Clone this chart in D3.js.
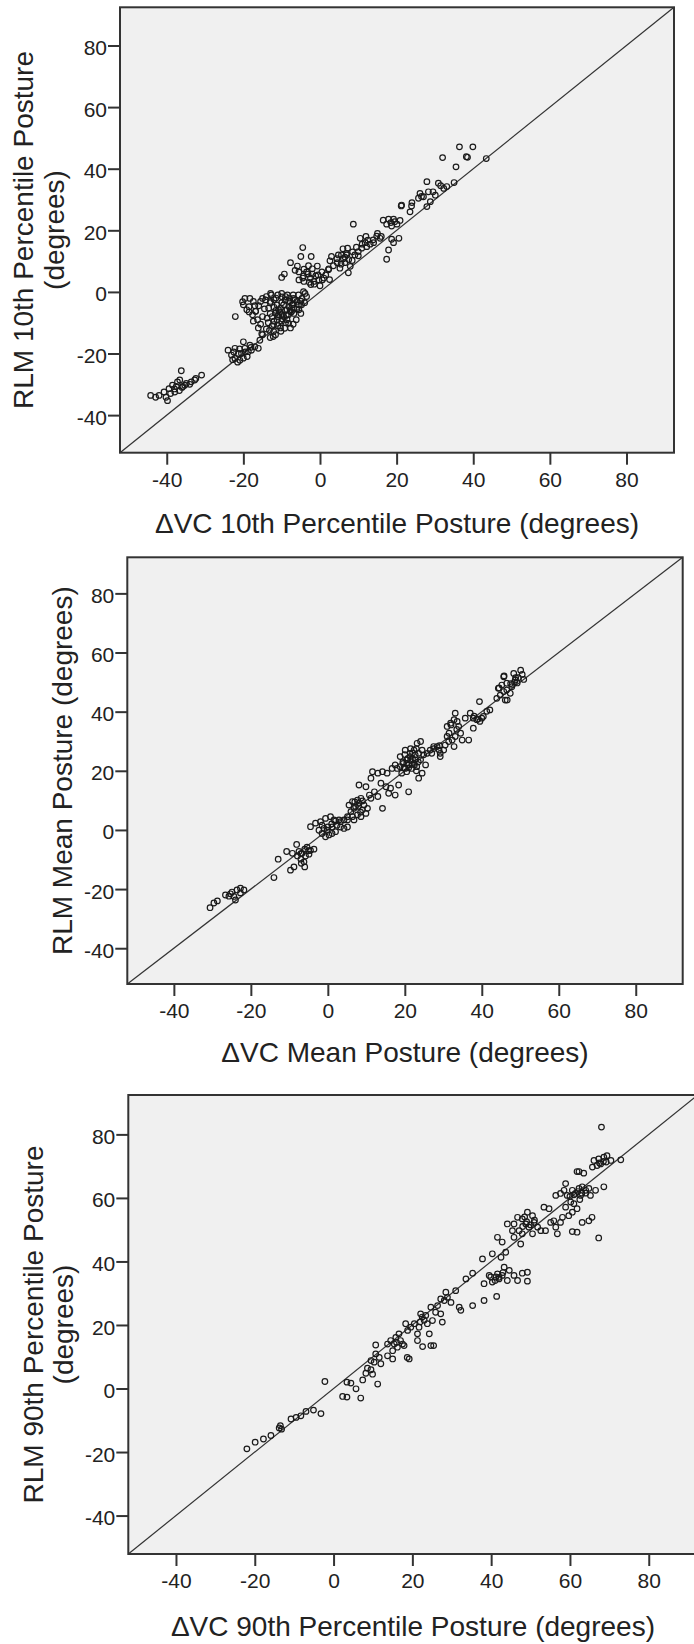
<!DOCTYPE html>
<html><head><meta charset="utf-8">
<script src="https://cdn.jsdelivr.net/npm/d3@7"></script>
<style>
body{margin:0;background:#fff}
svg{display:block}
text{font-family:"Liberation Sans",Arial,sans-serif;fill:#222}
</style>
</head><body><svg id="c" width="694" height="1644"></svg>
<script>
const tickValues = [-40, -20, 0, 20, 40, 60, 80];
const xTitles = ["ΔVC 10th Percentile Posture (degrees)", "ΔVC Mean Posture (degrees)", "ΔVC 90th Percentile Posture (degrees)"];
const yTitles = [["RLM 10th Percentile Posture", "(degrees)"], ["RLM Mean Posture (degrees)"], ["RLM 90th Percentile Posture", "(degrees)"]];

// [ΔVC, RLM] pairs
const p10Points = [
[36.4,47.1],[39.9,47.1],[32.0,43.6],[38.2,43.9],[38.5,43.7],[35.5,40.6],[43.4,43.3],[35.0,35.5],
[27.9,35.8],[30.9,35.3],[26.1,32.0],[27.0,30.9],[28.3,32.5],[30.1,31.4],[32.3,33.6],[33.1,34.2],[27.9,27.7],[25.7,30.4],[28.8,29.3],
[29.5,32.5],[31.5,34.5],[26.5,31.0],[24.0,29.0],
[21.3,28.2],[21.2,27.9],[23.9,27.9],[23.5,26.0],
[16.5,23.3],[17.9,23.6],[19.2,23.6],[20.9,23.2],[18.7,21.4],[17.4,22.0],[20.1,22.0],[20.6,17.4],[18.7,17.1],[17.9,13.6],[17.4,10.6],[19.2,16.0],[8.7,22.0],
[12.5,16.8],[14.0,16.0],[11.0,15.5],[16.0,18.0],[12.0,18.0],[15.0,19.0],[18.5,22.5],[19.5,22.8],
[10.5,17.4],[11.8,16.0],[13.1,15.5],[14.8,18.1],[15.7,17.4],[13.9,16.9],[7.2,14.2],[6.9,12.5],[5.6,12.0],[4.8,12.0],[6.1,10.8],[5.2,7.7],[7.4,6.2],[7.9,8.3],[9.1,12.0],[10.0,13.1],[10.9,14.2],[12.2,14.7],[8.4,10.2],[10.0,11.7],[2.6,10.1],[4.4,10.8],[6.5,11.3],[2.2,7.2],
[3.5,8.5],[4.5,9.5],[5.5,9.0],[6.5,9.5],[7.5,10.5],[8.5,13.0],[9.5,14.5],[6.0,14.0],[7.0,12.0],[3.0,11.5],
[-4.5,14.4],[-5.0,11.5],[-2.3,11.5],[-7.7,9.5],[-9.3,5.8],[-10.0,4.7],[-5.9,8.4],[-4.2,7.4],[-2.0,5.8],[-0.7,8.4],[2.3,7.5],[-5.5,3.9],[-4.2,3.4],[-2.8,3.1],[-1.6,3.4],[-0.3,3.9],[1.0,4.5],[-3.1,5.8],[-4.3,5.2],[-2.4,2.4],[-1.1,5.2],[0.6,3.9],
[-5.5,6.5],[-4.5,4.5],[-3.5,6.5],[-2.5,4.5],[-1.5,2.5],[-0.5,5.5],[0.5,6.5],[1.5,5.5],[2.5,4.0],[-3.0,8.5],[-6.5,7.0],[0.0,2.0],[-2.0,7.5],
[-4.3,0.1],[-5.6,-1.0],[-6.9,-2.1],[-8.2,-3.1],[-9.5,-4.2],[-10.3,-5.3],[-11.6,-6.9],[-12.5,-8.0],[-11.2,-9.0],[-9.9,-7.4],[-8.6,-5.8],[-7.3,-4.2],[-6.0,-3.1],[-4.7,-2.1],[-10.3,-11.7],[-12.1,-12.8],[-11.6,-13.9],[-7.7,-11.7],[-13.4,-5.3],[-12.9,-3.1],[-14.2,-2.6],[-15.0,-2.1],[-15.5,-3.1],[-16.8,-6.3],[-16.3,-9.0],[-15.0,-8.0],[-16.1,-11.7],[-15.0,-13.9],[-12.9,-0.5],[-12.7,-1.0],[-9.9,-1.6],[-9.1,-2.6],[-7.8,-3.1],[-9.5,-8.0],[-8.6,-9.0],[-12.1,-10.6],[-10.8,-5.8],[-11.2,-4.2],[-8.2,-7.4],[-6.9,-5.3],[-5.6,-4.2],[-3.9,-0.5],
[-10.5,-6.5],[-9.0,-6.0],[-11.0,-8.0],[-8.0,-5.0],[-7.0,-4.0],[-10.0,-3.5],[-12.0,-5.0],[-13.0,-7.0],[-9.0,-10.0],[-7.5,-6.5],[-6.0,-5.5],[-11.5,-2.0],[-8.5,-1.0],[-5.0,-3.0],[-13.5,-10.0],[-12.0,-9.5],[-10.0,-9.5],[-14.0,-12.0],
[-13.0,-3.5],[-12.0,-2.5],[-11.0,-1.0],[-10.0,-0.5],[-9.0,-1.5],[-8.0,-2.0],[-7.0,-1.0],[-6.5,-2.5],[-11.5,-6.0],[-10.8,-7.5],[-9.8,-8.8],[-8.8,-7.5],[-7.8,-6.2],[-6.8,-7.0],[-5.5,-5.8],[-4.8,-4.2],[-12.5,-11.0],[-11.0,-11.0],[-10.2,-12.8],[-9.2,-11.8],[-8.2,-10.2],[-13.8,-8.5],[-14.5,-5.5],[-13.2,-12.5],[-12.2,-14.5],[-6.2,-9.0],[-7.0,-10.5],[-5.0,-7.0],[-4.0,-3.5],[-3.5,-1.5],[-14.0,-1.5],[-16.0,-4.5],[-17.0,-4.5],[-18.5,-6.5],[-15.5,-10.5],[-13.0,-14.8],
[-19.6,-2.1],[-18.3,-2.1],[-20.0,-4.2],[-19.1,-5.8],[-17.4,-3.1],[-22.1,-8.0],[-16.8,-6.3],[-17.6,-7.4],[-17.4,-9.5],[-20.2,-3.2],[-18.5,-4.8],
[-24.0,-18.9],[-22.2,-18.3],[-23.1,-20.5],[-22.2,-21.6],[-20.9,-22.2],[-20.5,-20.0],[-19.6,-18.3],[-18.3,-17.3],[-17.0,-17.8],[-16.1,-18.3],[-20.0,-16.2],[-17.9,-18.9],[-21.3,-20.0],[-18.7,-19.4],[-15.7,-15.7],[-15.2,-13.6],[-21.5,-22.8],[-19.0,-21.0],
[-22.5,-19.5],[-21.0,-18.5],[-19.5,-19.5],[-18.0,-18.0],[-20.0,-21.5],[-22.8,-22.0],
[-36.2,-25.6],[-30.9,-27.0],[-32.7,-28.6],[-34.9,-29.7],[-36.6,-28.6],[-35.8,-30.7],[-37.5,-30.7],[-44.2,-33.6],[-42.0,-33.6],[-39.8,-35.3],[-40.7,-32.5],[-39.4,-31.4],[-38.5,-30.3],[-37.2,-29.2],[-37.9,-32.5],[-36.7,-32.0],[-35.3,-30.3],[-33.6,-29.2],[-32.4,-28.1],[-42.9,-34.2],[-40.2,-34.2],
[-38.0,-31.5],[-36.0,-31.0],[-34.0,-30.0],[-39.0,-33.0]
];

const meanPoints = [
[-30.6,-26.3],[-28.7,-24.0],[-29.6,-24.7],[-26.6,-22.0],[-25.3,-21.6],[-24.4,-22.5],[-23.6,-20.3],[-22.7,-19.7],[-21.8,-20.3],[-24.0,-23.7],[-24.9,-21.0],[-22.7,-21.3],[-25.7,-22.4],
[-14.0,-16.1],[-12.9,-9.9],[-10.7,-7.3],[-9.7,-13.6],[-8.8,-12.5],[-8.1,-4.9],[-9.2,-7.9],[-7.5,-7.3],[-6.7,-7.9],[-5.8,-8.8],[-6.2,-10.8],[-6.0,-12.5],[-7.0,-9.9],[-5.4,-5.8],[-4.5,-6.9],[-3.6,-6.5],[-4.9,-8.2],[-7.9,-8.8],[-6.9,-11.3],
[-6.0,-6.5],[-7.0,-8.0],[-5.0,-7.0],
[-4.5,1.1],[-3.2,2.3],[-1.9,2.8],[-0.6,3.9],[0.7,4.5],[1.6,3.4],[-2.3,-0.1],[-1.5,-1.2],[-0.6,-2.3],[0.3,-1.7],[-0.2,-0.1],[1.1,1.0],[2.0,-0.6],[2.4,1.6],[3.3,2.8],[4.2,3.4],[5.1,4.5],[2.9,3.4],[4.2,0.5],[5.1,1.0],[3.3,1.0],[-1.5,1.6],[1.1,-1.2],
[1.0,2.0],[0.0,1.0],[2.0,3.0],[-1.0,0.5],
[6.0,6.2],[6.8,7.3],[5.5,8.4],[6.4,9.6],[7.7,10.1],[8.6,10.7],[8.1,9.0],[7.2,7.9],[9.4,8.4],[9.0,6.8],[7.7,5.1],[6.4,4.5],[8.6,4.5],[9.9,5.6],[10.3,7.3],[11.2,10.7],[10.8,11.8],[9.9,14.6],[8.1,15.2],[12.1,12.9],[13.0,11.3],[14.2,7.3],[5.1,3.4],[6.8,3.4],
[8.0,8.0],[7.0,9.5],[9.0,9.8],[8.5,6.0],
[11.2,17.5],[11.6,19.7],[13.0,19.2],[14.2,19.7],[15.4,19.2],[13.8,15.8],[15.1,14.6],[16.3,14.1],[17.5,11.8],[18.4,15.2],[16.7,20.8],[15.8,12.4],[21.0,12.9],
[18.8,21.4],[19.6,22.5],[20.5,23.7],[20.1,27.0],[21.4,24.8],[22.7,23.7],[23.6,25.9],[23.2,29.3],[24.1,29.9],[22.4,27.0],[19.2,19.2],[20.5,19.7],[21.8,20.8],[23.1,21.4],[23.6,17.5],[24.5,19.2],[25.4,22.0],[24.9,25.4],[25.8,25.9],[18.8,24.8],[21.0,22.0],[22.4,22.5],[20.1,20.8],[18.0,20.8],[17.5,22.0],[22.7,25.4],[21.4,25.9],[24.1,23.7],
[19.5,23.0],[21.0,21.0],[22.0,24.0],[20.0,25.5],[23.0,20.0],[21.5,27.5],
[20.5,22.5],[21.5,23.5],[22.5,22.0],[23.5,23.0],[19.8,21.0],[22.0,26.0],[20.8,24.2],[23.0,27.5],[24.5,27.0],
[26.6,27.0],[27.5,28.2],[28.4,28.2],[27.0,25.9],[29.2,25.9],[30.1,27.0],[30.5,28.7],[31.4,29.9],[31.0,31.6],[32.3,30.4],[29.2,24.8],[28.9,27.0],
[27.5,27.5],[29.0,28.5],
[31.0,35.0],[31.9,36.1],[32.8,37.3],[33.1,39.5],[33.6,36.7],[34.0,35.0],[34.5,32.7],[33.1,31.6],[34.9,30.4],[36.6,30.4],[32.8,28.2],[31.5,32.7],
[32.0,35.5],[33.5,34.0],
[35.7,37.8],[37.0,39.5],[37.8,37.8],[38.7,37.3],[37.8,34.4],[39.5,36.7],[40.4,38.4],[41.3,40.1],[42.1,40.6],[39.4,43.4],[40.0,37.8],
[38.0,38.5],[39.0,37.5],
[43.9,44.5],[44.8,45.6],[45.7,46.8],[46.5,47.3],[44.3,47.9],[45.2,49.0],[45.7,51.8],[46.5,49.6],[47.8,48.4],[48.7,50.7],[47.4,46.2],[46.1,43.9],[48.3,52.9],
[45.8,52.1],[50.1,54.0],[48.8,51.5],[50.5,52.6],[47.9,49.2],[50.9,50.9],[46.6,43.9],[44.5,48.0],[49.2,49.7],
[48.5,50.0],[47.5,49.5],[49.5,51.5]
];

const p90Points = [
[-22.0,-19.0],[-19.9,-16.9],[-17.8,-15.9],[-15.9,-14.8],[-13.5,-11.7],[-13.2,-12.8],[-13.8,-12.4],[-10.8,-9.6],[-9.5,-9.1],[-8.3,-8.6],[-7.0,-7.2],[-5.1,-6.8],[-3.2,-7.9],[-2.2,2.2],
[2.3,-2.5],[3.4,-2.7],[6.9,-3.0],[3.4,2.0],[4.4,1.7],[5.7,-0.1],[7.4,2.7],[8.2,4.8],[8.6,6.4],[9.5,5.9],[10.7,13.7],[10.7,10.9],[10.3,8.3],[12.0,7.8],[11.2,1.4],[9.9,4.5],[11.6,9.8],[9.5,8.8],
[13.7,14.0],[14.5,15.1],[15.4,14.0],[15.0,11.9],[16.2,13.0],[17.0,15.1],[17.9,13.5],[15.0,9.3],[13.7,10.3],[18.7,9.8],[19.2,9.3],[16.6,17.2],[15.8,16.1],[18.3,20.4],[19.6,19.3],[20.5,20.4],[18.8,18.3],[21.7,19.3],[22.5,22.5],[22.1,23.5],[23.4,23.0],[23.8,20.4],[21.3,17.2],[24.3,17.2],[21.3,15.1],[22.6,13.2],[24.7,13.5],[25.4,13.5],[25.1,21.4],[24.7,25.6],[25.9,24.0],[27.6,20.9],[27.2,23.5],[26.4,26.1],[28.1,27.7],[28.5,30.3],[28.9,28.7],[29.8,27.1],[27.2,28.2],[31.0,30.8],[31.9,25.6],[32.3,24.6],[35.3,26.1],[38.2,27.7],[41.4,29.0],
[16.0,14.5],[17.5,14.0],[22.0,21.0],[23.0,21.5],
[33.6,34.5],[35.3,36.3],[37.8,40.8],[40.3,42.4],[41.6,47.6],[42.8,46.1],[43.7,42.9],[42.5,41.3],[39.5,35.6],
[38.2,33.0],[39.9,35.1],[41.2,35.1],[42.0,34.5],[42.8,35.6],[43.3,38.2],[44.1,34.0],[45.8,35.6],[46.7,34.0],[47.9,36.3],[49.2,36.6],[49.2,33.8],[40.3,33.5],[44.6,37.2],[41.6,36.1],
[42.0,35.0],[41.0,34.0],[43.0,36.5],
[44.1,51.8],[45.8,51.8],[46.7,53.9],[47.9,53.4],[49.2,55.5],[50.5,54.4],[48.8,51.8],[49.6,50.8],[50.9,52.3],[51.8,50.8],[52.6,49.7],[50.5,48.7],[47.9,48.7],[45.8,47.6],[47.5,45.5],[47.1,49.7],[45.4,49.7],[53.4,57.1],[54.7,56.6],[53.8,49.7],[55.1,52.3],[55.9,52.8],[56.8,48.7],[56.4,50.8],[57.6,52.3],[58.1,53.9],
[48.0,51.0],[49.0,52.5],[50.0,51.5],[51.0,53.0],[48.5,54.0],
[56.4,60.8],[57.6,61.4],[58.9,64.5],[59.3,60.8],[60.6,62.4],[61.4,61.4],[62.3,63.0],[63.1,63.5],[64.0,62.4],[64.8,63.0],[62.7,60.8],[60.2,58.7],[58.9,57.1],[60.6,55.5],[59.7,54.4],[61.8,56.6],[61.0,58.2],[62.3,68.3],[61.8,68.3],[63.5,67.8],[63.1,52.3],[64.8,52.8],[65.6,53.9],[60.6,49.4],[61.8,49.2],[67.3,47.4],[66.5,62.4],[68.6,63.5],[65.2,60.8],[58.5,62.4],
[61.0,61.0],[62.0,62.0],[63.0,61.5],[60.0,60.5],[64.0,61.5],[62.5,59.5],
[66.1,71.8],[67.3,72.3],[68.6,72.8],[69.4,73.3],[67.8,70.7],[69.2,71.3],[70.4,71.8],[72.9,72.0],[65.7,69.7],[66.9,70.2],[68.0,82.3],
[67.5,71.0],[68.5,71.5]
];

const panels = [
  {pts: p10Points, left: 120, right: 674, top: 7.3, bottom: 452.7, dom: [-52.2, 92.4], yTitleX: [33.3, 63.5], xTitleY: 533.3},
  {pts: meanPoints, left: 127.3, right: 682.7, top: 557.3, bottom: 984, dom: [-52.1, 92.2], yTitleX: [71.7], xTitleY: 1062},
  {pts: p90Points, left: 128.3, right: 697.6, top: 1095, bottom: 1554, dom: [-52.1, 92.4], yTitleX: [42.5, 72.5], xTitleY: 1635.7}
];

const svg = d3.select("#c");
const fmt = d => String(d);

panels.forEach((p, i) => {
  const x = d3.scaleLinear().domain(p.dom).range([p.left, p.right]);
  const y = d3.scaleLinear().domain(p.dom).range([p.bottom, p.top]);
  const g = svg.append("g");

  g.append("rect")
    .attr("x", p.left).attr("y", p.top)
    .attr("width", p.right - p.left).attr("height", p.bottom - p.top)
    .attr("fill", "#f0f0f0");

  // reference line y = x
  g.append("line")
    .attr("x1", x(p.dom[0])).attr("y1", y(p.dom[0]))
    .attr("x2", x(p.dom[1])).attr("y2", y(p.dom[1]))
    .attr("stroke", "#333").attr("stroke-width", 1.2);

  g.append("g").selectAll("circle").data(p.pts).join("circle")
    .attr("cx", d => x(d[0])).attr("cy", d => y(d[1]))
    .attr("r", 2.8)
    .attr("fill", "none").attr("stroke", "#1a1a1a").attr("stroke-width", 1.2);

  g.append("rect")
    .attr("x", p.left).attr("y", p.top)
    .attr("width", p.right - p.left).attr("height", p.bottom - p.top)
    .attr("fill", "none").attr("stroke", "#333").attr("stroke-width", 2);

  const xa = g.append("g").attr("transform", `translate(0,${p.bottom})`)
    .call(d3.axisBottom(x).tickValues(tickValues).tickFormat(fmt).tickSize(12).tickPadding(7));
  const ya = g.append("g").attr("transform", `translate(${p.left},0)`)
    .call(d3.axisLeft(y).tickValues(tickValues).tickFormat(fmt).tickSize(12).tickPadding(1));
  [xa, ya].forEach(a => {
    a.select(".domain").remove();
    a.selectAll(".tick line").attr("stroke", "#333").attr("stroke-width", 2);
    a.selectAll(".tick text").attr("fill", "#222").style("font-size", "21px")
      .style("font-family", '"Liberation Sans", Arial, sans-serif');
  });
  ya.selectAll(".tick text").attr("dy", "0.43em");

  g.append("text")
    .attr("x", (p.left + p.right) / 2).attr("y", p.xTitleY)
    .attr("text-anchor", "middle").style("font-size", "28px")
    .text(xTitles[i]);

  yTitles[i].forEach((line, j) => {
    g.append("text")
      .attr("transform", `translate(${p.yTitleX[j]},${(p.top + p.bottom) / 2}) rotate(-90)`)
      .attr("text-anchor", "middle").style("font-size", "28px")
      .text(line);
  });
});
</script>
</body></html>
